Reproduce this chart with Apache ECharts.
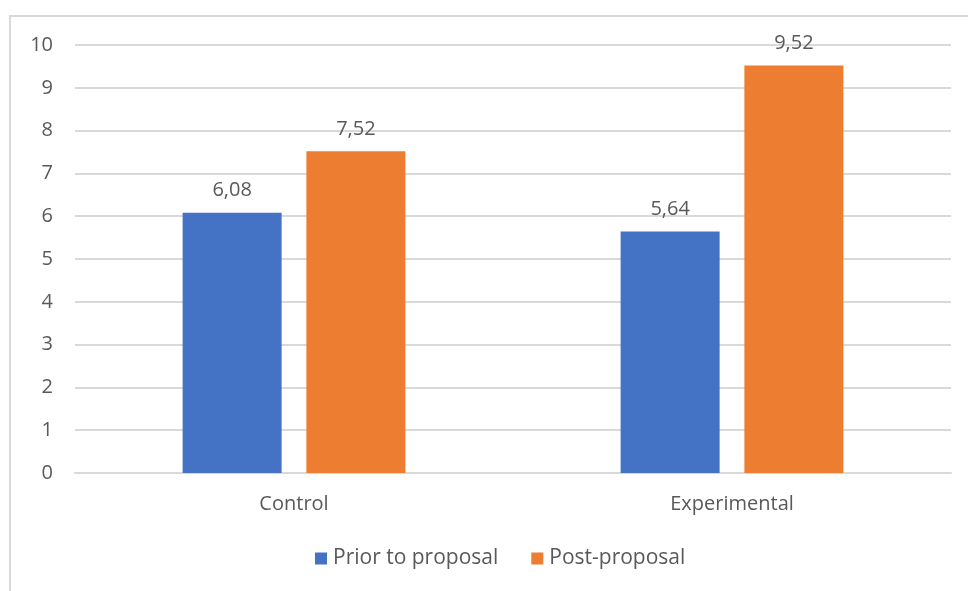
<!DOCTYPE html>
<html>
<head>
<meta charset="utf-8">
<script src="https://cdn.jsdelivr.net/npm/echarts@6/dist/echarts.min.js"></script>
<style>
  html, body { margin: 0; padding: 0; background: #fff; }
  #chart { width: 968px; height: 591px; }
</style>
</head>
<body>
<div id="chart"></div>
<script>
// Groups along the x axis
const categories = ['Control', 'Experimental'];
// Series names and scores per group
const seriesNames = ['Prior to proposal', 'Post-proposal'];
const priorValues = [6.08, 5.64];
const postValues = [7.52, 9.52];
// Y axis range
const yMin = 0, yMax = 10, yStep = 1;

const textColor = '#595959';
const fontFamily = '"Open Sans", "Noto Sans", sans-serif';
const fontSize = 20;
const fmt = v => v.toFixed(2).replace('.', ',');

const chart = echarts.init(document.getElementById('chart'), null, { renderer: 'canvas' });

function barSeries(name, data, color) {
  return {
    name: name,
    type: 'bar',
    data: data,
    barWidth: 99,
    barGap: '25%',
    itemStyle: { color: color },
    label: {
      show: true,
      position: 'top',
      distance: 12,
      color: textColor,
      fontSize: fontSize,
      fontFamily: fontFamily,
      formatter: p => fmt(p.value)
    }
  };
}

chart.setOption({
  animation: false,
  backgroundColor: '#fff',
  graphic: [{
    type: 'rect',
    shape: { x: 10, y: 16, width: 980, height: 600 },
    style: { fill: 'none', stroke: '#d9d9d9', lineWidth: 2 },
    silent: true
  }],
  grid: { left: 75, right: 17, top: 45, bottom: 118, containLabel: false },
  legend: {
    data: seriesNames,
    bottom: 17,
    left: 310,
    itemWidth: 12,
    itemHeight: 12,
    itemGap: 33,
    icon: 'rect',
    textStyle: { color: textColor, fontSize: 21, fontFamily: fontFamily, padding: [0, 0, 0, 1] }
  },
  xAxis: {
    type: 'category',
    data: categories,
    axisLine: { show: true, lineStyle: { color: '#d9d9d9', width: 2 } },
    axisTick: { show: false },
    axisLabel: { color: textColor, fontSize: fontSize, fontFamily: fontFamily, margin: 21 }
  },
  yAxis: {
    type: 'value',
    min: yMin,
    max: yMax,
    interval: yStep,
    axisLine: { show: false },
    axisTick: { show: false },
    axisLabel: { color: textColor, fontSize: fontSize, fontFamily: fontFamily, margin: 22 },
    splitLine: { lineStyle: { color: '#d9d9d9', width: 2 } }
  },
  series: [
    barSeries(seriesNames[0], priorValues, '#4472C4'),
    barSeries(seriesNames[1], postValues, '#ED7D31')
  ]
});
</script>
</body>
</html>
